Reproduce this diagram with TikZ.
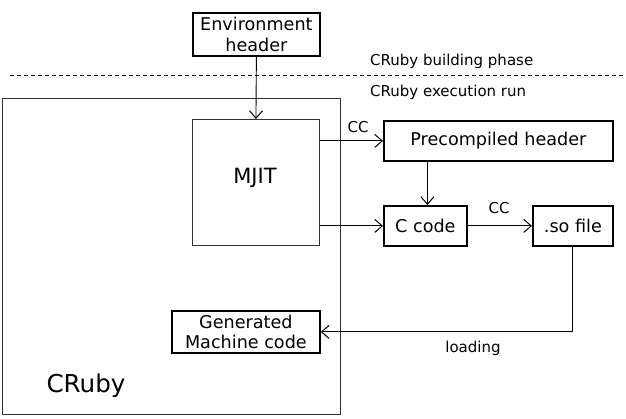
\documentclass[tikz,border=0pt]{standalone}
\usepackage{fontspec}
\setmainfont{DejaVu Sans}
\usetikzlibrary{arrows.meta}
\begin{document}
\begin{tikzpicture}[x=1pt,y=-1pt,
  thickbox/.style={draw=black,line width=1.8pt,inner sep=0pt,font=\fontsize{17.6}{20.5}\selectfont,align=center},
  thinbox/.style={draw=black!80,line width=0.9pt,inner sep=0pt},
  conn/.style={line width=0.9pt,-{Straight Barb[length=7.5pt,width=13pt,line width=1pt]}},
  lbl/.style={font=\fontsize{15}{17}\selectfont,inner sep=0pt}]
\useasboundingbox (0,0) rectangle (626,418);
% CRuby outer box
\node[thinbox,minimum width=338pt,minimum height=316pt,anchor=north west] (cruby) at (2,98) {};
\node[font=\fontsize{24.6}{28}\selectfont,inner sep=0pt] (crubylbl) at (86,386) {CRuby};
% MJIT
\node[thinbox,minimum width=127pt,minimum height=126pt,anchor=north west] (mjit) at (192,119) {};
\node[font=\fontsize{21}{24}\selectfont,inner sep=0pt] (mjitlbl) at (255,178) {MJIT};
% environment header
\node[thickbox,minimum width=127pt,minimum height=43pt,anchor=north west] (env) at (192,12) {Environment\\header};
% dashed line
\coordinate (dl) at (10,75);
\coordinate (dr) at (626,75);
\draw[line width=0.7pt,dash pattern=on 4pt off 3pt] (dl) -- (dr);
\node[lbl,anchor=west] (build) at (370,61) {CRuby building phase};
\node[lbl,anchor=west] (exec) at (370,92) {CRuby execution run};
% boxes
\node[thickbox,minimum width=229pt,minimum height=40pt,anchor=north west] (pch) at (383,120) {Precompiled header};
\node[thickbox,minimum width=83pt,minimum height=40pt,anchor=north west] (ccode) at (383,205) {C code};
\node[thickbox,minimum width=80pt,minimum height=40pt,anchor=north west] (so) at (532,205) {.so file};
\node[thickbox,minimum width=148pt,minimum height=42pt,anchor=north west] (gen) at (171,310) {Generated\\Machine code};
% connectors
\draw[conn] (env.south) -- (mjit.north);
\draw[conn] (mjit.north east |- pch.west) -- (pch.west);
\node[lbl] (cc1) at (358,127) {CC};
\draw[conn] (mjit.south east |- ccode.west) -- (ccode.west);
\draw[conn] (pch.south -| ccode.center) ++(2,0) coordinate (p1) (p1) -- (p1 |- ccode.north);
\draw[conn] (ccode.east) -- (so.west);
\node[lbl] (cc2) at (499,208) {CC};
\coordinate (corner) at (so.south |- gen.east);
\draw[conn] (so.south) -- (corner) -- (gen.east);
\node[lbl] (load) at (473,348) {loading};
\end{tikzpicture}
\end{document}
